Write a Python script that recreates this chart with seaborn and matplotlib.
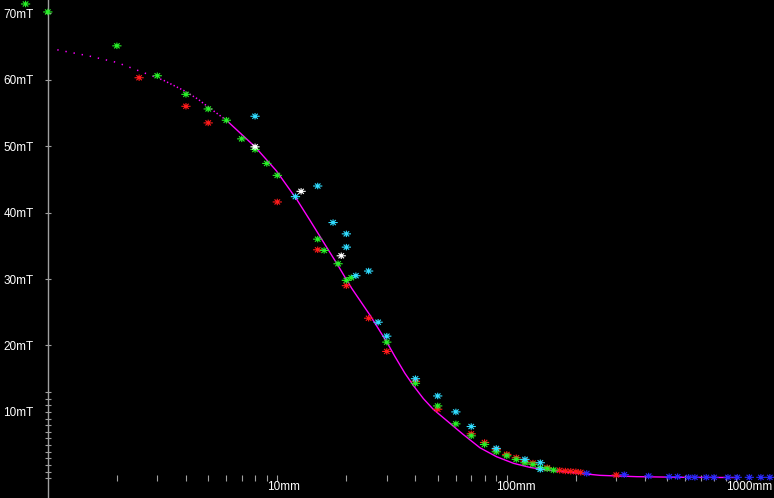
import numpy as np
import pandas as pd
import matplotlib
matplotlib.use("Agg")
import matplotlib.pyplot as plt
import matplotlib.transforms as mtransforms
from matplotlib import font_manager
from matplotlib.path import Path
from matplotlib.ticker import NullFormatter
import seaborn as sns

# fitted curve (distance in mm, field in mT)
curve_mm = [1.1, 1.5, 2.0, 2.6, 3.2, 3.9, 4.5, 5.0, 6.0, 8.0, 9.9, 12.2, 13.9, 16.4,
            18.2, 19.7, 21.1, 25.3, 30.0, 32.6, 36.0, 39.1, 43.3, 47.8, 54.7, 64.6,
            76.4, 90.3, 107, 126, 149, 208, 255, 368, 600, 1000]
curve_mt = [64.5, 63.6, 62.6, 61.1, 59.9, 58.4, 57.1, 55.9, 53.9, 49.9, 46.3, 41.9, 38.8, 34.8,
            32.3, 30.3, 28.6, 24.6, 20.5, 18.3, 15.8, 14.0, 12.0, 10.4, 8.7, 6.6,
            4.6, 3.25, 2.26, 1.65, 1.25, 0.75, 0.45, 0.25, 0.15, 0.12]

# measured points, one list pair per probe colour
red_mm = [2.5, 4, 5, 10, 15, 20, 25, 30, 40, 50, 70, 80, 90, 100, 110, 120, 130, 150,
          170, 180, 190, 200, 210, 300]
red_mt = [60.3, 56.0, 53.5, 41.6, 34.4, 29.0, 24.1, 19.1, 14.6, 10.4, 6.7, 5.4, 4.3, 3.6,
          3.1, 2.6, 2.3, 1.6, 1.2, 1.1, 1.05, 1.0, 0.9, 0.5]

green_mm = [0.8, 1, 2, 3, 4, 5, 6, 7, 8, 9, 10, 15, 16, 18.4, 20, 21, 30, 40, 50, 60, 70,
            80, 90, 100, 110, 120, 130, 140, 150, 160]
green_mt = [71.4, 70.2, 65.1, 60.6, 57.8, 55.6, 53.9, 51.1, 49.5, 47.4, 45.6, 36.0, 34.3,
            32.3, 29.8, 30.2, 20.5, 14.3, 10.9, 8.2, 6.4, 5.1, 4.0, 3.4, 2.85, 2.35, 2.1,
            1.6, 1.45, 1.25]

cyan_mm = [8, 12, 15, 17.5, 20, 20, 22, 25, 27.5, 30, 40, 50, 60, 70, 90, 120, 140, 140]
cyan_mt = [54.5, 42.4, 44.0, 38.5, 36.8, 34.8, 30.5, 31.2, 23.5, 21.4, 15.0, 12.4, 10.0,
           7.8, 4.5, 2.85, 2.35, 1.35]

white_mm = [8, 12.7, 19]
white_mt = [49.9, 43.2, 33.5]

blue_mm = [223, 325, 415, 510, 555, 620, 660, 740, 800, 920, 1010, 1140, 1280, 1400]
blue_mt = [0.75, 0.55, 0.35, 0.25, 0.25, 0.15, 0.15, 0.15, 0.15, 0.15, 0.15, 0.15, 0.15, 0.15]

y_major = [10, 20, 30, 40, 50, 60, 70]
y_minor = [0, 1, 2, 3, 4, 5, 6, 7, 8, 9, 11, 12, 13]
x_major = [10, 100, 1000]
x_minor = [2, 3, 4, 5, 6, 7, 8, 9, 20, 30, 40, 50, 60, 70, 80, 90,
           200, 300, 400, 500, 600, 700, 800, 900]

palette = {'red': '#ff1a1a', 'green': '#26f026', 'cyan': '#30dcff',
           'white': '#ffffff', 'blue': '#2a2aff'}

points = pd.concat([
    pd.DataFrame({'mm': red_mm, 'mT': red_mt, 'probe': 'red'}),
    pd.DataFrame({'mm': green_mm, 'mT': green_mt, 'probe': 'green'}),
    pd.DataFrame({'mm': cyan_mm, 'mT': cyan_mt, 'probe': 'cyan'}),
    pd.DataFrame({'mm': white_mm, 'mT': white_mt, 'probe': 'white'}),
    pd.DataFrame({'mm': blue_mm, 'mT': blue_mt, 'probe': 'blue'}),
], ignore_index=True)

# flat asterisk like the original plotting program draws
star = Path([(-1, 0), (1, 0), (0, -0.7), (0, 0.7),
             (-0.6, -0.55), (0.6, 0.55), (-0.6, 0.55), (0.6, -0.55)],
            [Path.MOVETO, Path.LINETO] * 4)

installed = {f.name for f in font_manager.fontManager.ttflist}
label_font = 'Liberation Sans'
for name in ['Liberation Sans Narrow', 'DejaVu Sans Condensed']:
    if name in installed:
        label_font = name
        break
plt.rcParams['font.family'] = [label_font, 'DejaVu Sans']

fig = plt.figure(figsize=(7.74, 4.98), dpi=100, facecolor='black')
ax = fig.add_axes([0, 0, 1, 1])
ax.set_facecolor('black')
ax.set_xscale('log')
ax.set_xlim(0.619, 1460)
ax.set_ylim(-2.96, 72.0)

# curve: sparse dots at the top-left, solid further on
curve = pd.DataFrame({'mm': curve_mm, 'mT': curve_mt})
head = curve[curve['mm'] <= 3.2]
mid = curve[(curve['mm'] >= 3.2) & (curve['mm'] <= 6.0)]
tail = curve[curve['mm'] >= 6.0]
sns.lineplot(data=head, x='mm', y='mT', ax=ax, color='#ff00ff', lw=1.1,
             linestyle=(0, (0.9, 4.5)), estimator=None, sort=False, zorder=2)
sns.lineplot(data=mid, x='mm', y='mT', ax=ax, color='#ff00ff', lw=1.1,
             linestyle=(0, (0.9, 1.5)), estimator=None, sort=False, zorder=2)
sns.lineplot(data=tail, x='mm', y='mT', ax=ax, color='#ff00ff', lw=1.0,
             estimator=None, sort=False, zorder=2)

sns.scatterplot(data=points, x='mm', y='mT', hue='probe', palette=palette,
                marker=star, s=44, linewidth=0.8, edgecolor='face', legend=False,
                ax=ax, zorder=3, clip_on=False)

# axes: grey y axis at 1 mm, bare tick marks along 0 mT
for side in ['top', 'right']:
    ax.spines[side].set_visible(False)
ax.spines['left'].set_position(('data', 1.0))
ax.spines['left'].set_color('#a0a0a0')
ax.spines['left'].set_linewidth(1.0)
ax.spines['bottom'].set_position(('data', 0))
ax.spines['bottom'].set_color('none')

ax.set_yticks(y_major)
ax.set_yticklabels([f'{v}mT' for v in y_major])
ax.set_yticks(y_minor, minor=True)
ax.set_xticks(x_major)
ax.set_xticklabels([f'{v}mm' for v in x_major])
ax.set_xticks(x_minor, minor=True)
ax.xaxis.set_minor_formatter(NullFormatter())

ax.tick_params(axis='both', which='both', direction='inout', length=4.5, width=0.8,
               color='#a0a0a0', labelcolor='white', labelsize=8.5)
ax.tick_params(axis='y', which='both', pad=8)
ax.tick_params(axis='x', which='both', pad=0)
ax.set_xlabel('')
ax.set_ylabel('')

shift = mtransforms.ScaledTranslation(-0.105, 0, fig.dpi_scale_trans)
for lab in ax.get_xticklabels():
    lab.set_ha('left')
    lab.set_transform(lab.get_transform() + shift)

fig.savefig('out.png', dpi=100, facecolor='black')
